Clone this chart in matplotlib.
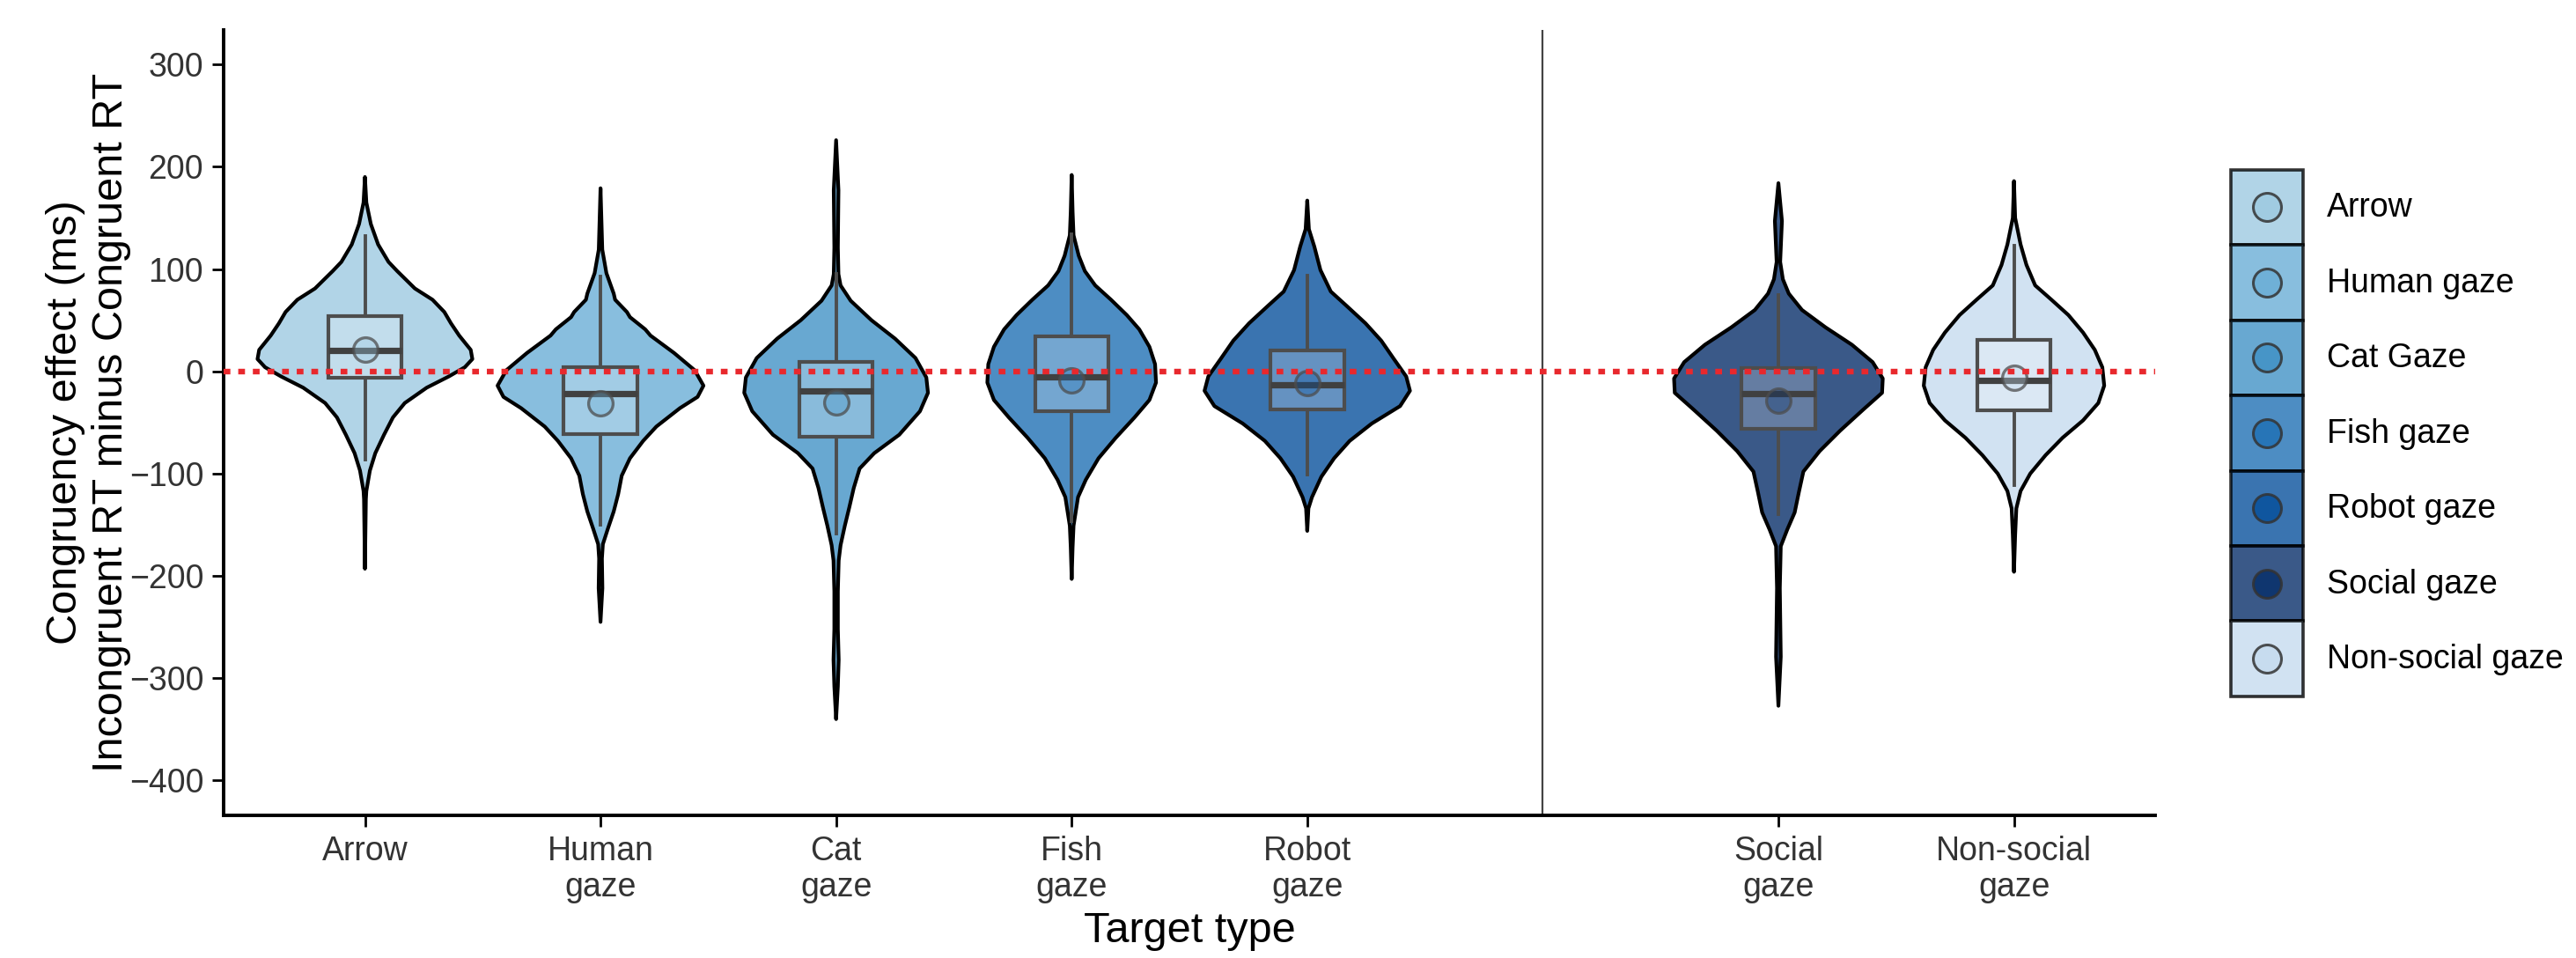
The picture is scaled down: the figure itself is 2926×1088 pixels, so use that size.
import matplotlib
matplotlib.use("Agg")
import matplotlib.pyplot as plt
from matplotlib.colors import to_rgba
from matplotlib.patches import Patch
from matplotlib.lines import Line2D
from matplotlib.legend_handler import HandlerLine2D

plt.rcParams['font.family'] = ['Liberation Sans', 'DejaVu Sans']

# categories and positions (gap at 6 for the divider line)
tick_labels = ['Arrow', 'Human\ngaze', 'Cat\ngaze', 'Fish\ngaze', 'Robot\ngaze',
               'Social\ngaze', 'Non-social\ngaze']
legend_labels = ['Arrow', 'Human gaze', 'Cat Gaze', 'Fish gaze', 'Robot gaze',
                 'Social gaze', 'Non-social gaze']
positions = [1, 2, 3, 4, 5, 7, 8]
point_colors = ['#9ecae1', '#6baed6', '#4292c6', '#2171b5', '#08519c', '#08306b', '#c6dbef']

# violin outlines: value levels (ms) and half widths (category units)
arrow_y = [190, 165, 144, 124, 107, 98, 81, 70, 58, 47, 35, 21, 12, 4, -5, -16, -31, -45,
           -62, -80, -97, -117, -125, -193]
arrow_w = [0, 0.006, 0.025, 0.056, 0.10, 0.137, 0.212, 0.287, 0.337, 0.365, 0.40, 0.449, 0.456,
           0.424, 0.356, 0.262, 0.169, 0.119, 0.081, 0.044, 0.021, 0.006, 0.004, 0]
human_y = [179, 119, 96, 76, 70, 58, 53, 41, 35, 18, 1, -14, -25, -36, -54, -68, -85, -102,
           -120, -137, -154, -169, -183, -212, -245]
human_w = [0, 0.0075, 0.025, 0.056, 0.062, 0.112, 0.125, 0.19, 0.212, 0.312, 0.40, 0.437, 0.412,
           0.337, 0.237, 0.181, 0.125, 0.09, 0.075, 0.056, 0.031, 0.01, 0.006, 0.008, 0]
cat_y = [226, 177, 121, 95, 84, 69, 50, 32, 13, -6, -21, -39, -62, -80, -95, -114, -133, -151,
         -170, -185, -215, -252, -282, -308, -340]
cat_w = [0, 0.01, 0.0075, 0.01, 0.019, 0.062, 0.15, 0.25, 0.337, 0.383, 0.39, 0.356, 0.268, 0.162,
         0.10, 0.075, 0.056, 0.037, 0.019, 0.011, 0.0075, 0.0075, 0.011, 0.0075, 0]
fish_y = [192, 156, 133, 113, 98, 84, 70, 55, 41, 24, 7, -11, -28, -45, -65, -85, -106, -123,
          -151, -172, -203]
fish_w = [0, 0.004, 0.008, 0.03, 0.056, 0.10, 0.167, 0.234, 0.287, 0.33, 0.354, 0.358, 0.33,
          0.267, 0.187, 0.114, 0.06, 0.027, 0.008, 0.004, 0]
robot_y = [167, 139, 122, 99, 78, 64, 47, 30, 12, -5, -19, -34, -51, -68, -85, -103, -123,
           -134, -156]
robot_w = [0, 0.007, 0.03, 0.056, 0.10, 0.167, 0.247, 0.314, 0.368, 0.42, 0.436, 0.394, 0.274,
           0.18, 0.114, 0.06, 0.02, 0.005, 0]
social_y = [184, 147, 107, 90, 76, 60, 43, 26, 9, -7, -21, -37, -58, -78, -98, -118, -138, -155,
            -171, -212, -279, -327]
social_w = [0, 0.015, 0.0075, 0.019, 0.044, 0.10, 0.20, 0.312, 0.40, 0.443, 0.44, 0.362, 0.262,
            0.175, 0.106, 0.087, 0.069, 0.037, 0.01, 0.006, 0.01, 0]
nonsocial_y = [186, 150, 124, 104, 84, 70, 55, 38, 21, 4, -14, -31, -48, -65, -82, -100, -117,
               -134, -160, -196]
nonsocial_w = [0, 0.005, 0.028, 0.053, 0.09, 0.159, 0.231, 0.293, 0.343, 0.375, 0.383, 0.358,
               0.293, 0.206, 0.134, 0.069, 0.028, 0.01, 0.005, 0]

violin_y = [arrow_y, human_y, cat_y, fish_y, robot_y, social_y, nonsocial_y]
violin_w = [arrow_w, human_w, cat_w, fish_w, robot_w, social_w, nonsocial_w]

# box summaries
q1 = [-6, -61, -64, -39, -37, -56, -38]
med = [20, -22, -19, -5, -13, -22, -9]
q3 = [54, 4, 9, 34, 20, 3, 31]
whis_lo = [-86, -150, -159, -147, -101, -140, -111]
whis_hi = [132, 93, 95, 134, 94, 75, 123]
means = [21, -31, -30, -9, -11, -29, -6]


class CenteredDot(HandlerLine2D):
    # put the legend dot in the middle of the key box
    def create_artists(self, legend, orig_handle, xdescent, ydescent, width, height,
                       fontsize, trans):
        arts = super().create_artists(legend, orig_handle, xdescent, ydescent, width, height,
                                      fontsize, trans)
        for a in arts:
            a.set_ydata([height / 2 - ydescent] * len(a.get_ydata()))
        return arts


fig = plt.figure(figsize=(14.63, 5.44), dpi=200)
ax = fig.add_axes([0.0868, 0.149, 0.7499, 0.820])

for pos, ys, ws, c in zip(positions, violin_y, violin_w, point_colors):
    left = [pos - w for w in ws]
    right = [pos + w for w in ws]
    ax.fill_betweenx(ys, left, right, facecolor=c, alpha=0.8, edgecolor='none', zorder=2)
    ax.fill_betweenx(ys, left, right, facecolor='none', edgecolor='black', linewidth=1.5,
                     joinstyle='round', zorder=2.1)

stats = []
for a, m, b, lo, hi in zip(q1, med, q3, whis_lo, whis_hi):
    stats.append(dict(q1=a, med=m, q3=b, whislo=lo, whishi=hi, fliers=[]))
ax.bxp(stats, positions=positions, widths=0.312, patch_artist=True, showcaps=False,
       showfliers=False, manage_ticks=False,
       boxprops=dict(facecolor=(1, 1, 1, 0.22), edgecolor='#4d4d4d', linewidth=1.5),
       whiskerprops=dict(color='#4d4d4d', linewidth=1.4),
       medianprops=dict(color='#404040', linewidth=2.6, solid_capstyle='butt'),
       zorder=3)

for pos, m, c in zip(positions, means, point_colors):
    ax.plot(pos, m, marker='o', markersize=10, markerfacecolor=to_rgba(c, 0.35),
            markeredgecolor=to_rgba('#4d4d4d', 0.75), markeredgewidth=1.2,
            linestyle='none', zorder=4)

ax.axhline(0, color='#e8282d', linewidth=2.3, dashes=(1.2, 1.4), dash_capstyle='butt', zorder=5)
ax.axvline(6, color='#444444', linewidth=0.8, zorder=1)

ax.set_xlim(0.4, 8.6)
ax.set_ylim(-434, 334)
ax.set_yticks([300, 200, 100, 0, -100, -200, -300, -400])
ax.set_xticks(positions, tick_labels)
for s in ['top', 'right']:
    ax.spines[s].set_visible(False)
for s in ['left', 'bottom']:
    ax.spines[s].set_linewidth(1.4)
ax.tick_params(axis='both', length=4.7, width=1.0, labelsize=13.5, labelcolor='#333333', pad=3.5)

ax.set_xlabel('Target type', fontsize=17.5, labelpad=3)
ax.set_ylabel('Congruency effect (ms)\nIncongruent RT minus Congruent RT', fontsize=17.5,
              linespacing=1.2)
ax.yaxis.set_label_coords(-0.048, 0.5)

handles = []
for c in point_colors:
    box = Patch(facecolor=c, alpha=0.8, edgecolor='black', linewidth=1.3)
    dot = Line2D([], [], marker='o', markersize=11.5, markerfacecolor=c, markeredgecolor='#333333',
                 markeredgewidth=1.1, alpha=0.85, linestyle='none')
    handles.append((box, dot))
fig.legend(handles, legend_labels, loc='upper left', bbox_to_anchor=(0.866, 0.823),
           frameon=False, borderpad=0, borderaxespad=0, labelspacing=0,
           handlelength=2.2, handleheight=3.13, handletextpad=0.7, fontsize=13.5,
           handler_map={Line2D: CenteredDot()})

fig.savefig('out.png', dpi=200)
